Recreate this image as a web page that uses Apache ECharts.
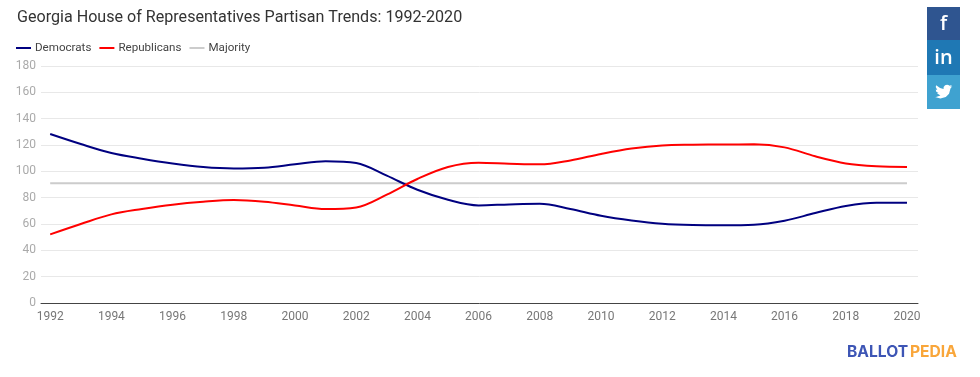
<!DOCTYPE html>
<html>
<head>
<meta charset="utf-8">
<script src="https://cdn.jsdelivr.net/npm/echarts@6/dist/echarts.min.js"></script>
<style>
  html, body { margin: 0; padding: 0; background: #fff; }
  #chart { width: 980px; height: 377px; }
</style>
</head>
<body>
<div id="chart"></div>
<script>
const years = [1992, 1993, 1994, 1995, 1996, 1997, 1998, 1999, 2000, 2001, 2002, 2003, 2004, 2005, 2006, 2007, 2008, 2009, 2010, 2011, 2012, 2013, 2014, 2015, 2016, 2017, 2018, 2019, 2020];
const democrats = [128.3, 120.7, 113.9, 109.6, 106, 103.3, 102.2, 102.8, 105.3, 107.6, 106.3, 96.7, 86, 78.4, 74.1, 74.9, 75.4, 71.4, 66.3, 62.7, 60.2, 59.2, 59, 59.4, 62.5, 68.3, 73.7, 76.2, 76.2];
const republicans = [52.1, 60, 67.3, 71.4, 74.7, 76.9, 78.2, 76.9, 74.1, 71.4, 72.6, 82.3, 94.2, 103.3, 106.5, 105.8, 105.3, 108.3, 113.2, 117.3, 119.7, 120.2, 120.4, 120.5, 118.2, 111.4, 106, 103.8, 103.3];
const majority = [91, 91, 91, 91, 91, 91, 91, 91, 91, 91, 91, 91, 91, 91, 91, 91, 91, 91, 91, 91, 91, 91, 91, 91, 91, 91, 91, 91, 91];
const yearTicks = [1992, 1994, 1996, 1998, 2000, 2002, 2004, 2006, 2008, 2010, 2012, 2014, 2016, 2018, 2020];

// twitter bird outline for the share strip, in a 24x24 box
const birdOutline = [[24, 4.6], [21.2, 5.4], [23.4, 2.7], [20.3, 3.9], [18.5, 2.8], [16.7, 2.3], [14, 3.2], [12, 5.5], [11.9, 8.3], [7, 7], [1.7, 3.1], [1, 5.6], [3.2, 9.7], [1, 9.1], [1.8, 12], [4.9, 14], [2.7, 14.1], [7.5, 17.5], [1.4, 19.6], [0, 19.5], [7.5, 21.7], [15, 19.5], [19.5, 15], [21.5, 7.7]];

const chart = echarts.init(document.getElementById("chart"));

const pairs = (values) => years.map((year, i) => [year, values[i]]);

chart.setOption({
  animation: false,
  backgroundColor: "#fff",
  textStyle: { fontFamily: "Roboto" },
  title: {
    text: "Georgia House of Representatives Partisan Trends: 1992-2020",
    left: 17,
    top: 10,
    padding: 0,
    textStyle: { color: "#333", fontSize: 16.1, fontWeight: 400, fontFamily: "Roboto" },
  },
  legend: {
    left: 16,
    top: 42,
    padding: 0,
    itemWidth: 15,
    itemHeight: 2,
    itemGap: 8,
    icon: "rect",
    textStyle: { color: "#444", fontSize: 11.6, padding: [0, 0, 0, -1] },
    data: ["Democrats", "Republicans", "Majority"],
  },
  grid: { left: 41, right: 62, top: 66, bottom: 74 },
  xAxis: {
    type: "value",
    min: 1991.7,
    max: 2020.36,
    splitLine: { show: false },
    axisTick: { show: false },
    axisLine: { show: true, lineStyle: { color: "#444", width: 1 } },
    axisLabel: {
      customValues: yearTicks,
      color: "#777",
      fontSize: 12,
      margin: 8,
      formatter: (v) => String(v),
    },
  },
  yAxis: {
    type: "value",
    min: 0,
    max: 180,
    interval: 20,
    axisLine: { show: false },
    axisTick: { show: false },
    axisLabel: { color: "#aaa", fontSize: 12, margin: 5, padding: [4, 0, 0, 0] },
    splitLine: { lineStyle: { color: "#e8e8e8", width: 1 } },
  },
  series: [
    {
      name: "Democrats",
      type: "line",
      data: pairs(democrats),
      smooth: 0.35,
      symbol: "none",
      itemStyle: { color: "#000080" },
      lineStyle: { color: "#000080", width: 2 },
    },
    {
      name: "Republicans",
      type: "line",
      data: pairs(republicans),
      smooth: 0.35,
      symbol: "none",
      itemStyle: { color: "#ff0000" },
      lineStyle: { color: "#ff0000", width: 2 },
    },
    {
      name: "Majority",
      type: "line",
      data: pairs(majority),
      symbol: "none",
      z: 1,
      itemStyle: { color: "#cccccc" },
      lineStyle: { color: "#cccccc", width: 2 },
    },
  ],
  graphic: [
    { type: "rect", shape: { x: 927, y: 7, width: 33, height: 33 }, style: { fill: "#2f5590" } },
    { type: "rect", shape: { x: 927, y: 40, width: 33, height: 35 }, style: { fill: "#1f78b4" } },
    { type: "rect", shape: { x: 927, y: 75, width: 33, height: 34 }, style: { fill: "#3fa2d0" } },
    { type: "text", style: { x: 943.5, y: 24, text: "f", fill: "#fff", font: "600 20px 'Open Sans'", align: "center", verticalAlign: "middle" } },
    { type: "text", style: { x: 943.5, y: 58, text: "in", fill: "#fff", font: "600 20px 'Open Sans'", align: "center", verticalAlign: "middle" } },
    { type: "polygon", x: 935, y: 83, scaleX: 0.72, scaleY: 0.72, shape: { points: birdOutline }, style: { fill: "#fff" } },
    { type: "text", style: { x: 847, y: 352, text: "BALLOT", fill: "#3d55b5", font: "700 15.6px Inter", align: "left", verticalAlign: "middle" } },
    { type: "text", style: { x: 910, y: 352, text: "PEDIA", fill: "#f9a63a", font: "700 15.6px Inter", align: "left", verticalAlign: "middle" } },
  ],
});
</script>
</body>
</html>
